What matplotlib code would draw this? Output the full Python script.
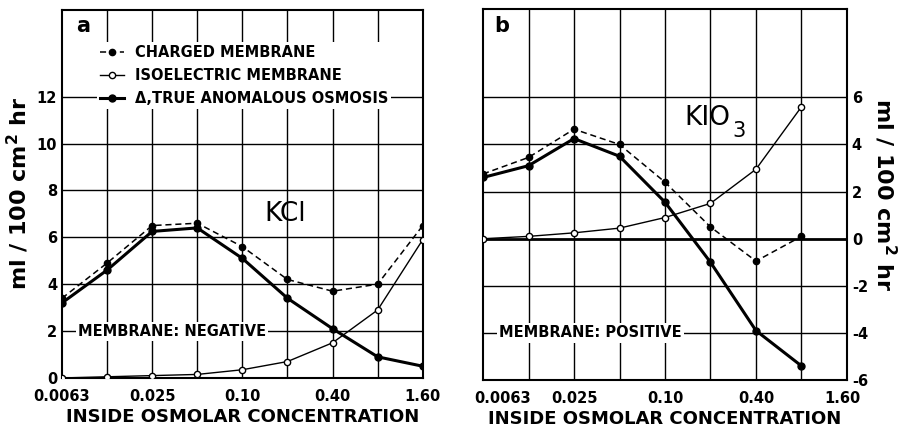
import matplotlib.pyplot as plt
from matplotlib.transforms import ScaledTranslation

# inside osmolar concentration (doubling steps)
conc = [0.00625, 0.0125, 0.025, 0.05, 0.10, 0.20, 0.40, 0.80, 1.60]
tick_labels = ["0.0063", "", "0.025", "", "0.10", "", "0.40", "", "1.60"]

# panel a: KCl, negative membrane
kcl_charged = [3.4, 4.9, 6.5, 6.6, 5.6, 4.2, 3.7, 4.0, 6.5]
kcl_iso = [0.0, 0.05, 0.1, 0.15, 0.35, 0.7, 1.5, 2.9, 5.9]
kcl_true = [3.2, 4.6, 6.25, 6.4, 5.1, 3.4, 2.1, 0.9, 0.5]

# panel b: KIO3, positive membrane
kio3_charged = [2.75, 3.45, 4.65, 4.0, 2.4, 0.5, -0.95, 0.1]
kio3_iso = [0.0, 0.1, 0.25, 0.45, 0.9, 1.5, 2.95, 5.6]
kio3_true = [2.6, 3.1, 4.25, 3.5, 1.55, -1.0, -3.9, -5.4]

plt.rcParams['font.family'] = ['DejaVu Sans']
plt.rcParams['font.weight'] = 'bold'
plt.rcParams['axes.unicode_minus'] = False

fig = plt.figure(figsize=(9.02, 4.29), dpi=100)
ax1 = fig.add_axes([0.0687, 0.119, 0.400, 0.858])
ax2 = fig.add_axes([0.5355, 0.114, 0.4035, 0.865])

ylabel = r"ml / 100 cm$^{\mathbf{2}}$ hr"


def draw_panel(ax, charged, iso, true):
    n = len(charged)
    x = conc[:n]
    ax.plot(x, charged, color='black', lw=1.1, dashes=(4, 2.5), marker='o',
            ms=4.5, mfc='black', mec='black', label='CHARGED MEMBRANE', zorder=3)
    ax.plot(x, iso, color='black', lw=1.0, marker='o', ms=4.5,
            mfc='white', mec='black', mew=1.0, label='ISOELECTRIC MEMBRANE', zorder=4)
    ax.plot(x, true, color='black', lw=2.2, marker='o', ms=5,
            mfc='black', mec='black', label='Δ,TRUE ANOMALOUS OSMOSIS', zorder=3)
    ax.set_xscale('log', base=2)
    ax.set_xlim(conc[0], conc[-1])
    ax.set_xticks(conc)
    ax.set_xticklabels(tick_labels)
    ax.minorticks_off()
    ax.tick_params(length=0, labelsize=10.5)
    ax.tick_params(axis='x', pad=8)
    for s in ax.spines.values():
        s.set_linewidth(1.5)
    ax.set_xlabel("INSIDE OSMOLAR CONCENTRATION", fontsize=13,
                  fontweight='bold', labelpad=3)


# ---- panel a
draw_panel(ax1, kcl_charged, kcl_iso, kcl_true)
ax1.set_ylim(0, 15.7)
ax1.set_yticks([0, 2, 4, 6, 8, 10, 12])
for yv in [2, 4, 6, 8, 10, 12]:
    ax1.axhline(yv, color='black', lw=1.0, zorder=1)
for xv in conc[1:-1]:
    ax1.axvline(xv, color='black', lw=1.0, zorder=1)
ax1.set_ylabel(ylabel, fontsize=16, fontweight='bold', labelpad=4)
ax1.text(0.058, 0.955, "a", transform=ax1.transAxes, fontsize=15,
         fontweight='bold', ha='center', va='center')
ax1.text(0.62, 0.445, "KCl", transform=ax1.transAxes, fontsize=19,
         fontweight='normal', ha='center', va='center')
ax1.text(0.045, 2, "MEMBRANE: NEGATIVE", transform=ax1.get_yaxis_transform(),
         fontsize=10.5, fontweight='bold', va='center', ha='left',
         bbox=dict(facecolor='white', edgecolor='none', pad=1.5), zorder=5)
leg = ax1.legend(loc='upper left', bbox_to_anchor=(0.098, 0.912), borderaxespad=0,
                 frameon=True, facecolor='white', edgecolor='none', framealpha=1,
                 fontsize=10.5, handlelength=1.6, handletextpad=0.75,
                 labelspacing=0.55, borderpad=0.2)
leg.get_frame().set_boxstyle('square', pad=0)
leg.set_zorder(6)

# ---- panel b
draw_panel(ax2, kio3_charged, kio3_iso, kio3_true)
ax2.set_ylim(-6, 9.75)
ax2.set_yticks([-6, -4, -2, 0, 2, 4, 6])
for yv in [-4, -2, 2, 4, 6]:
    ax2.axhline(yv, color='black', lw=1.0, zorder=1)
ax2.axhline(0, color='black', lw=2.0, zorder=1)
for xv in conc[1:-1]:
    ax2.axvline(xv, color='black', lw=1.0, zorder=1)
ax2.yaxis.tick_right()
ax2.yaxis.set_label_position('right')
ax2.set_ylabel(ylabel, fontsize=16, fontweight='bold', rotation=-90,
               labelpad=22)
ax2.text(0.052, 0.955, "b", transform=ax2.transAxes, fontsize=15,
         fontweight='bold', ha='center', va='center')
ax2.text(0.68, 0.705, "KIO", transform=ax2.transAxes, fontsize=19,
         fontweight='normal', ha='right', va='center')
ax2.text(0.684, 0.672, "3", transform=ax2.transAxes, fontsize=15,
         fontweight='normal', ha='left', va='center')
ax2.text(0.045, -4, "MEMBRANE: POSITIVE", transform=ax2.get_yaxis_transform(),
         fontsize=10.5, fontweight='bold', va='center', ha='left',
         bbox=dict(facecolor='white', edgecolor='none', pad=1.5), zorder=5)
# end tick labels in panel b sit off their lines in the original
labs = ax2.get_xticklabels()
labs[0].set_transform(labs[0].get_transform() + ScaledTranslation(0.2, 0, fig.dpi_scale_trans))
labs[-1].set_transform(labs[-1].get_transform() + ScaledTranslation(-0.05, 0, fig.dpi_scale_trans))

fig.savefig("out.png", dpi=100)
